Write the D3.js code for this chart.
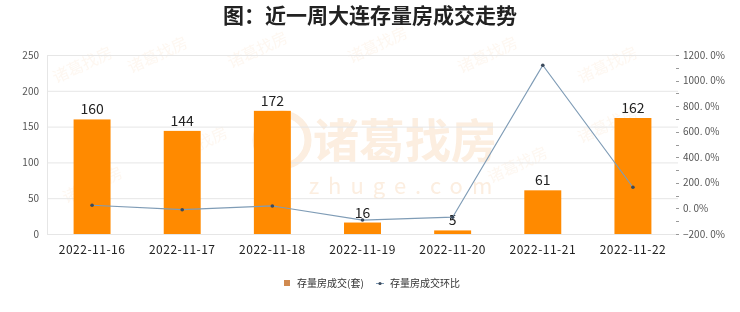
<!DOCTYPE html>
<html>
<head>
<meta charset="utf-8">
<script src="https://cdn.jsdelivr.net/npm/d3@7"></script>
<style>
	body { margin: 0; background: #fff; }
	text { font-family: "Noto Sans CJK SC", "Noto Sans", sans-serif; }
</style>
</head>
<body>
<div id="chart"></div>
<script>
(function(){
	var width = 740,
		height = 312;

	// data
	var days = ["2022-11-16", "2022-11-17", "2022-11-18", "2022-11-19", "2022-11-20", "2022-11-21", "2022-11-22"];
	var deals = [160, 144, 172, 16, 5, 61, 162];
	var ratio = [25, -10, 19.4, -90.7, -68.75, 1120, 165.6];
	var leftTicks = [0, 50, 100, 150, 200, 250];
	var rightTicks = [-200, 0, 200, 400, 600, 800, 1000, 1200];

	var left = 47, right = 678, top = 55, bottom = 234;

	var svg = d3.select("#chart")
		.append("svg")
		.attr("width", width)
		.attr("height", height)

	var x = d3.scaleBand().domain(days).range([left, right]).paddingInner(0.59).paddingOuter(0.295)
	var y = d3.scaleLinear().domain([0, 250]).range([bottom, top])
	var y2 = d3.scaleLinear().domain([-200, 1200]).range([bottom, top])

	// watermark, faint
	var wm = svg.append("g").attr("fill", "#f8dcc0").attr("opacity", 0.5)
	wm.append("circle").attr("cx", 282).attr("cy", 140).attr("r", 26)
		.attr("fill", "none").attr("stroke", "#f8dcc0").attr("stroke-width", 7)
	wm.append("text").attr("x", 405).attr("y", 157).attr("text-anchor", "middle")
		.attr("font-size", 46).attr("font-weight", "bold").text("诸葛找房")
	wm.append("text").attr("x", 405).attr("y", 194).attr("text-anchor", "middle")
		.attr("font-size", 22).attr("letter-spacing", 9).text("zhuge.com")
	var tiles = [[85, 70], [160, 60], [260, 55], [380, 50], [490, 60], [610, 70], [95, 190], [200, 150], [520, 170], [610, 130]]
	tiles.forEach(function(t){
		wm.append("text").attr("transform", "translate(" + t[0] + "," + t[1] + ") rotate(-25)")
			.attr("text-anchor", "middle").attr("font-size", 16).attr("opacity", 0.45).text("诸葛找房")
	})

	// grid
	svg.append("g").selectAll("line")
		.data(leftTicks)
		.enter().append("line")
		.attr("x1", left).attr("x2", right)
		.attr("y1", function(d){ return y(d) + 0.5 })
		.attr("y2", function(d){ return y(d) + 0.5 })
		.attr("stroke", "#e6e6e6")

	svg.append("line").attr("x1", left + 0.5).attr("x2", left + 0.5)
		.attr("y1", top).attr("y2", bottom).attr("stroke", "#e6e6e6")

	// left axis
	svg.append("g")
		.attr("transform", "translate(" + left + ",0)")
		.call(d3.axisLeft(y).tickValues(leftTicks).tickSize(0).tickPadding(8))
		.call(function(g){ g.select(".domain").remove() })
		.selectAll("text").attr("font-size", 10).attr("fill", "#555")

	// right axis with small ticks every 100%
	var ra = svg.append("g").attr("transform", "translate(" + right + ",0)")
	ra.selectAll("line")
		.data(d3.range(-200, 1201, 100))
		.enter().append("line")
		.attr("x1", -2).attr("x2", 1)
		.attr("y1", function(d){ return Math.round(y2(d)) + 0.5 })
		.attr("y2", function(d){ return Math.round(y2(d)) + 0.5 })
		.attr("stroke", "#999")
	ra.selectAll("text")
		.data(rightTicks)
		.enter().append("text")
		.attr("x", 5)
		.attr("y", function(d){ return y2(d) })
		.attr("dy", "0.35em")
		.attr("font-size", 10).attr("fill", "#555")
		.text(function(d){ return d3.format(".1f")(d).replace(".", ". ") + "%" })

	// x axis labels
	svg.append("g")
		.attr("transform", "translate(0," + bottom + ")")
		.call(d3.axisBottom(x).tickSize(0).tickPadding(11))
		.call(function(g){ g.select(".domain").remove() })
		.selectAll("text").attr("font-size", 12).attr("fill", "#222").attr("letter-spacing", 0.5)

	// bars
	svg.selectAll(".bar")
		.data(deals)
		.enter().append("rect")
		.attr("class", "bar")
		.attr("x", function(d, i){ return x(days[i]) })
		.attr("width", x.bandwidth())
		.attr("y", function(d){ return y(d) })
		.attr("height", function(d){ return bottom - y(d) })
		.attr("fill", "#ff8a00")

	svg.selectAll(".lbl")
		.data(deals)
		.enter().append("text")
		.attr("class", "lbl")
		.attr("x", function(d, i){ return x(days[i]) + x.bandwidth() / 2 })
		.attr("y", function(d){ return y(d) - 5 })
		.attr("text-anchor", "middle")
		.attr("font-size", 14).attr("fill", "#222")
		.text(function(d){ return d })

	// ratio line
	var line = d3.line()
		.x(function(d, i){ return x(days[i]) + x.bandwidth() / 2 })
		.y(function(d){ return y2(d) })

	svg.append("path")
		.datum(ratio)
		.attr("d", line)
		.attr("fill", "none")
		.attr("stroke", "#7f9cb6")
		.attr("stroke-width", 1.2)

	svg.selectAll(".dot")
		.data(ratio)
		.enter().append("circle")
		.attr("class", "dot")
		.attr("cx", function(d, i){ return x(days[i]) + x.bandwidth() / 2 })
		.attr("cy", function(d){ return y2(d) })
		.attr("r", 1.8)
		.attr("fill", "#3b4a5c")

	// title
	svg.append("text")
		.attr("x", width / 2).attr("y", 23)
		.attr("text-anchor", "middle")
		.attr("font-size", 21).attr("font-weight", "bold").attr("fill", "#222")
		.text("图：近一周大连存量房成交走势")

	// legend
	var lg = svg.append("g").attr("font-size", 10).attr("fill", "#333")
	lg.append("rect").attr("x", 284).attr("y", 280).attr("width", 6).attr("height", 6).attr("fill", "#d08a50")
	lg.append("text").attr("x", 297).attr("y", 287).text("存量房成交(套)")
	lg.append("line").attr("x1", 376).attr("x2", 384).attr("y1", 283.5).attr("y2", 283.5).attr("stroke", "#7f9cb6")
	lg.append("circle").attr("cx", 380).attr("cy", 283.5).attr("r", 1.6).attr("fill", "#3b4a5c")
	lg.append("text").attr("x", 390).attr("y", 287).text("存量房成交环比")
})();
</script>
</body>
</html>
